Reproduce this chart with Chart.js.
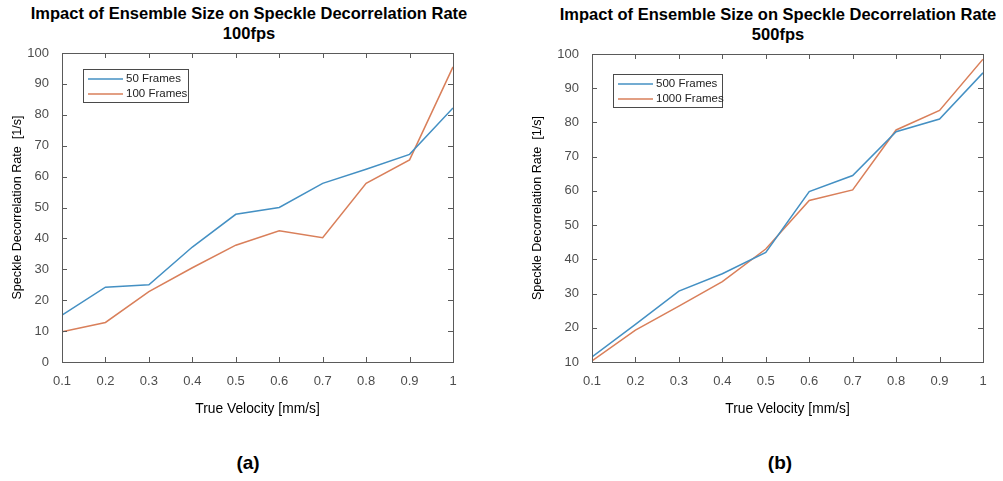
<!DOCTYPE html>
<html>
<head>
<meta charset="utf-8">
<script src="https://cdn.jsdelivr.net/npm/chart.js@4.4.1/dist/chart.umd.min.js"></script>
<style>
  body { margin: 0; background: #fff; width: 1003px; height: 481px; position: relative; overflow: hidden; }
  canvas { position: absolute; top: 0; }
  .ttl { position: absolute; font-family: "Liberation Sans", Arial, sans-serif; font-weight: bold; font-size: 16.5px; color: #000; text-align: center; line-height: 20px; transform: translateX(-50%); white-space: nowrap; }
  .tag { position: absolute; font-family: "Liberation Sans", Arial, sans-serif; font-weight: bold; font-size: 19px; transform: translate(-50%, -50%); }
</style>
</head>
<body>
<div class="ttl" style="left:249px; top:3px;">Impact of Ensemble Size on Speckle Decorrelation Rate<br>100fps</div>
<div class="ttl" style="left:778px; top:4px;">Impact of Ensemble Size on Speckle Decorrelation Rate<br>500fps</div>
<canvas id="chartA" style="left:0px" width="500" height="440"></canvas>
<canvas id="chartB" style="left:500px" width="503" height="440"></canvas>
<div class="tag" style="left:248px; top:463px;">(a)</div>
<div class="tag" style="left:780px; top:463px;">(b)</div>
<script>
// true velocity, mm/s
const velocity = [0.1, 0.2, 0.3, 0.4, 0.5, 0.6, 0.7, 0.8, 0.9, 1.0];
const velocityLabels = ['0.1', '0.2', '0.3', '0.4', '0.5', '0.6', '0.7', '0.8', '0.9', '1'];

// (a) 100fps
const frames50 = [15.2, 24.2, 25.0, 37.2, 47.8, 50.0, 57.8, 62.4, 67.2, 82.2];
const frames100 = [9.8, 12.8, 22.8, 30.5, 37.8, 42.5, 40.2, 57.8, 65.4, 95.5];

// (b) 500fps
const frames500 = [11.5, 21.0, 30.7, 35.8, 42.0, 59.8, 64.5, 77.3, 81.0, 94.5];
const frames1000 = [10.3, 19.3, 26.3, 33.5, 43.0, 57.2, 60.3, 77.8, 83.5, 98.5];

const yTicksA = [0, 10, 20, 30, 40, 50, 60, 70, 80, 90, 100];
const yTicksB = [10, 20, 30, 40, 50, 60, 70, 80, 90, 100];

const BLUE = '#4490c3';
const ORANGE = '#d97f5a';
const FONT = '"Liberation Sans", Arial, sans-serif';

function pts(ys) {
  return velocity.map((v, i) => ({ x: v, y: ys[i] }));
}

// matlab-ish box with inward ticks + boxed legend
const boxPlugin = {
  id: 'boxPlugin',
  afterDraw(chart) {
    const ctx = chart.ctx;
    const a = chart.chartArea;
    const xs = chart.scales.x, ys = chart.scales.y;
    const t = 5;
    ctx.save();
    ctx.strokeStyle = '#5a5a5a';
    ctx.lineWidth = 1;
    ctx.beginPath();
    xs.ticks.forEach(tk => {
      const px = Math.round(xs.getPixelForValue(tk.value)) + 0.5;
      ctx.moveTo(px, a.bottom); ctx.lineTo(px, a.bottom - t);
      ctx.moveTo(px, a.top); ctx.lineTo(px, a.top + t);
    });
    ys.ticks.forEach(tk => {
      const py = Math.round(ys.getPixelForValue(tk.value)) + 0.5;
      ctx.moveTo(a.left, py); ctx.lineTo(a.left + t, py);
      ctx.moveTo(a.right, py); ctx.lineTo(a.right - t, py);
    });
    ctx.stroke();
    ctx.strokeRect(Math.round(a.left) + 0.5, Math.round(a.top) + 0.5, Math.round(a.right - a.left), Math.round(a.bottom - a.top));

    // legend
    const lg = chart.options.plugins.boxLegend;
    const lx = a.left + lg.dx, ly = a.top + lg.dy;
    ctx.fillStyle = '#fff';
    ctx.fillRect(lx, ly, lg.w, lg.h);
    ctx.strokeStyle = '#4a4a4a';
    ctx.strokeRect(Math.round(lx) + 0.5, Math.round(ly) + 0.5, lg.w, lg.h);
    ctx.font = '11.5px ' + FONT;
    ctx.textBaseline = 'middle';
    chart.data.datasets.forEach((ds, i) => {
      const yy = ly + 10 + i * 15;
      ctx.strokeStyle = ds.borderColor;
      ctx.lineWidth = 1.5;
      ctx.beginPath();
      ctx.moveTo(lx + 5, yy); ctx.lineTo(lx + 40, yy);
      ctx.stroke();
      ctx.fillStyle = '#222';
      ctx.fillText(ds.label, lx + 43, yy);
    });
    ctx.restore();
  }
};

function makeChart(id, sets, yMin, yMax, yTicks, pad, yWidth, legend) {
  return new Chart(document.getElementById(id), {
    type: 'line',
    data: {
      datasets: sets.map(s => ({
        label: s.label, data: pts(s.values), borderColor: s.color, borderWidth: 1.5,
        pointRadius: 0, tension: 0, fill: false
      }))
    },
    options: {
      responsive: false,
      animation: false,
      layout: { padding: pad },
      plugins: { legend: { display: false }, tooltip: { enabled: false }, boxLegend: legend },
      scales: {
        x: {
          type: 'linear', min: 0.1, max: 1,
          afterBuildTicks: s => { s.ticks = velocity.map(v => ({ value: v })); },
          afterFit: s => { s.height = 60; },
          grid: { display: false }, border: { display: false },
          ticks: {
            padding: 4, color: '#4d4d4d', font: { family: FONT, size: 13 },
            callback: (v, i) => velocityLabels[i]
          },
          title: { display: true, text: 'True Velocity [mm/s]', color: '#000', font: { family: FONT, size: 13.8 }, padding: { top: 0, bottom: 5 } }
        },
        y: {
          min: yMin, max: yMax,
          afterBuildTicks: s => { s.ticks = yTicks.map(v => ({ value: v })); },
          afterFit: s => { s.width = yWidth; },
          grid: { display: false }, border: { display: false },
          ticks: { padding: 5, color: '#4d4d4d', font: { family: FONT, size: 13 } },
          title: { display: true, text: 'Speckle Decorrelation Rate  [1/s]', color: '#000', font: { family: FONT, size: 12.6 }, padding: { top: 0, bottom: 0 } }
        }
      }
    },
    plugins: [boxPlugin]
  });
}

makeChart('chartA',
  [{ label: '50 Frames', values: frames50, color: BLUE }, { label: '100 Frames', values: frames100, color: ORANGE }],
  0, 100, yTicksA, { top: 53, right: 47, bottom: 18, left: 10 }, 52,
  { dx: 21, dy: 16, w: 105, h: 33 });

makeChart('chartB',
  [{ label: '500 Frames', values: frames500, color: BLUE }, { label: '1000 Frames', values: frames1000, color: ORANGE }],
  10, 100, yTicksB, { top: 54, right: 20, bottom: 18, left: 30 }, 62,
  { dx: 21, dy: 20, w: 109, h: 33 });
</script>
</body>
</html>
